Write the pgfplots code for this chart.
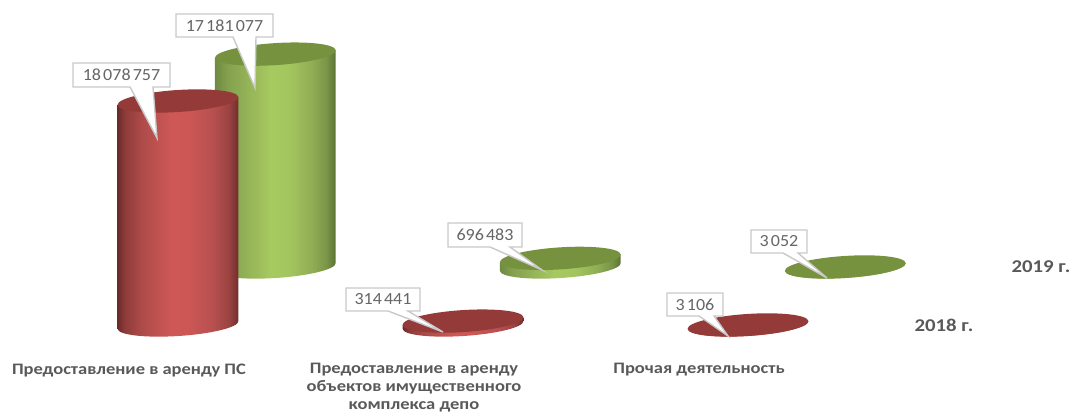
\documentclass[border=0pt]{standalone}
\usepackage{pgfplots}
\pgfplotsset{compat=1.18}
\usepackage{pgfplotstable}
\usepackage{fontspec}
\setmainfont{Carlito}
\newfontfamily\widefont[FakeStretch=1.156]{Carlito}
\newfontfamily\lblfont[FakeStretch=1.06]{Carlito}
\definecolor{txt}{HTML}{595959}
\definecolor{lbltxt}{HTML}{666666}
\definecolor{lblborder}{HTML}{C9C9C9}
\definecolor{ra}{HTML}{6B2B2A}\definecolor{rb}{HTML}{8E3C3A}\definecolor{rc}{HTML}{AE4B49}
\definecolor{rd}{HTML}{CE5856}\definecolor{re}{HTML}{CC5755}\definecolor{rf}{HTML}{B85050}
\definecolor{rg}{HTML}{9A4341}\definecolor{rh}{HTML}{6E2D2C}
\definecolor{ga}{HTML}{6F8A42}\definecolor{gb}{HTML}{84A04E}\definecolor{gc}{HTML}{93B257}
\definecolor{gd}{HTML}{A7CA60}\definecolor{ge}{HTML}{A3C55E}\definecolor{gf}{HTML}{90AE54}
\definecolor{gg}{HTML}{7A9548}\definecolor{gh}{HTML}{5A7333}
\pgfdeclarehorizontalshading{redcyl}{100bp}{
 color(0bp)=(ra);color(25bp)=(ra);color(28bp)=(rb);color(35bp)=(rc);
 color(47bp)=(rd);color(54bp)=(re);color(64bp)=(rf);color(71bp)=(rg);
 color(75bp)=(rh);color(100bp)=(rh)}
\pgfdeclarehorizontalshading{greencyl}{100bp}{
 color(0bp)=(ga);color(25bp)=(ga);color(30bp)=(gb);color(38bp)=(gc);
 color(48bp)=(gd);color(56bp)=(ge);color(65bp)=(gf);color(71bp)=(gg);
 color(75bp)=(gh);color(100bp)=(gh)}
\newdimen\cylh
\newcommand{\declcyl}[3]{%
 \pgfdeclareplotmark{#1}{%
  \begin{pgfscope}%
  \pgfkeys{/pgf/fpu=false}%
  \cylh=\pgfplotspointmetatransformed pt\relax
  \cylh=0.2478\cylh
  \pgfpathmoveto{\pgfqpoint{-60.37pt}{-3.9pt}}%
  \pgfpathlineto{\pgfqpoint{-60.37pt}{\dimexpr-3.9pt-\cylh\relax}}%
  \pgfpathcurveto{\pgfqpoint{-59.98pt}{\dimexpr-9.96pt-\cylh\relax}}{\pgfqpoint{-32.63pt}{\dimexpr-13.13pt-\cylh\relax}}{\pgfqpoint{0.71pt}{\dimexpr-10.98pt-\cylh\relax}}%
  \pgfpathcurveto{\pgfqpoint{34.05pt}{\dimexpr-8.83pt-\cylh\relax}}{\pgfqpoint{60.76pt}{\dimexpr-2.16pt-\cylh\relax}}{\pgfqpoint{60.37pt}{\dimexpr3.9pt-\cylh\relax}}%
  \pgfpathlineto{\pgfqpoint{60.37pt}{3.9pt}}%
  \pgfpathclose
  \pgfshadepath{#2}{0}%
  \pgfusepath{discard}%
  \pgfpathellipse{\pgfpointorigin}{\pgfqpoint{60.37pt}{3.9pt}}{\pgfqpoint{-0.71pt}{10.98pt}}%
  \pgfsetfillcolor{#3}%
  \pgfusepath{fill}%
  \end{pgfscope}%
 }}
\definecolor{redtop}{HTML}{943A38}
\definecolor{greentop}{HTML}{77923F}
\declcyl{cylred}{redcyl}{redtop}
\declcyl{cylgreen}{greencyl}{greentop}
\pgfplotstableread{
x v
0 18078757
1 314441
2 3106
}\tableA
\pgfplotstableread{
x v
0 17181077
1 696483
2 3052
}\tableB
\newcommand{\tsp}{\hspace{0.13em}}
\newcommand{\lbl}[9]{% x1 x2 y1 y2 b1 b2 tx ty text
 \draw[lblborder,line width=1.4pt,fill=white,line join=miter]
  (#1pt,{414pt-#3pt}) -- (#2pt,{414pt-#3pt}) -- (#2pt,{414pt-#4pt}) -- (#6pt,{414pt-#4pt})
  -- (#7pt,{414pt-#8pt}) -- (#5pt,{414pt-#4pt}) -- (#1pt,{414pt-#4pt}) -- cycle;
 \node[lbltxt,font=\lblfont\fontsize{17}{20}\selectfont,inner sep=0pt] at ({(#1pt+#2pt)/2},{414pt-(#3pt+#4pt)/2}) {#9};
}
\begin{document}
\begin{tikzpicture}
\useasboundingbox (0,0) rectangle (1070pt,414pt);
\begin{axis}[
 at={(0pt,54pt)},anchor=south west,
 scale only axis,width=1070pt,height=360pt,
 xmin=-0.62456,xmax=3.1298,
 ymin=-2824860,ymax=26230831,
 clip=false,
 axis line style={draw=none},
 tick style={draw=none},
 major tick length=0pt,
 ytick=\empty,
 xtick={0,1,2},
 xticklabels={{Предоставление в аренду ПС},{Предоставление в аренду\\объектов имущественного\\комплекса депо},{Прочая деятельность}},
 x tick label style={align=center,anchor=north,xshift=-49pt,yshift=0pt,text=txt,
   font=\widefont\fontsize{16}{18}\selectfont\bfseries},
 only marks,
 scatter,
 scatter src=y,
 point meta min=0,point meta max=20000000,
]
\addplot[mark=cylgreen,xshift=97.3pt,yshift=58pt] table[x=x,y=v] {\tableB};
\addplot[mark=cylred] table[x=x,y=v] {\tableA};
\end{axis}
\node[txt,font=\widefont\fontsize{18}{20}\selectfont\bfseries] at (1041pt,147pt) {2019 г.};
\node[txt,font=\widefont\fontsize{18}{20}\selectfont\bfseries] at (944pt,89pt) {2018 г.};
\lbl{73}{170}{63}{87}{130}{153}{157}{138}{18\tsp 078\tsp 757}
\lbl{176}{273}{14}{37}{233}{256}{255}{88}{17\tsp 181\tsp 077}
\lbl{448}{522}{223}{247}{490}{510}{542}{270}{696\tsp 483}
\lbl{346}{420}{288}{311}{388}{408}{443}{332}{314\tsp 441}
\lbl{751}{807}{230}{253}{783}{798}{827}{278}{3\tsp 052}
\lbl{667}{723}{293}{316}{699}{714}{728}{336}{3\tsp 106}
\end{tikzpicture}
\end{document}
